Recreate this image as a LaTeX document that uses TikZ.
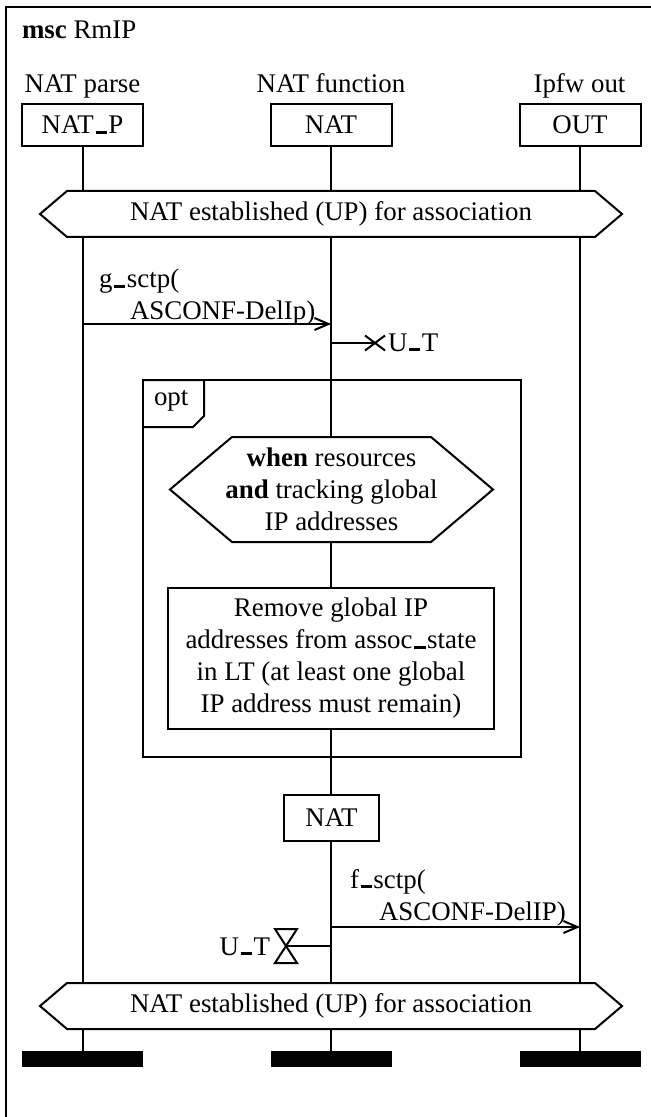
\documentclass[tikz,border=0pt]{standalone}
\usepackage{fontspec}
\setmainfont{Liberation Serif}
\usetikzlibrary{arrows.meta,calc}

% underscore drawn as a short rule sitting on the baseline
\newcommand{\usc}{\leavevmode\kern.06em\vbox{\hrule width.42em height 1.4pt}\kern.06em}
% hexagon outline round a named node; #2 = horizontal run of the slanted sides
\newcommand{\hexframe}[2]{%
  \draw[lw] (#1.west) -- ([xshift=#2]#1.north west) -- ([xshift=-#2]#1.north east)
    -- (#1.east) -- ([xshift=-#2]#1.south east) -- ([xshift=#2]#1.south west) -- cycle;}

\begin{document}
\begin{tikzpicture}[x=0.5pt,y=-0.5pt,
  font=\fontsize{13.45}{16}\selectfont,
  every node/.style={inner sep=0pt, outer sep=0pt},
  lw/.style={line width=1pt},
  instbox/.style={draw, lw, minimum width=60.5pt, minimum height=21pt},
  life/.style={lw},
  msg/.style={lw, -{Straight Barb[length=7pt,width=6pt]}},
  endbar/.style={fill=black, minimum width=60.5pt, minimum height=8pt},
  lbl/.style={anchor=base west},
  title/.style={anchor=base}]

\useasboundingbox (0,0) rectangle (651,1117);

% diagram frame
\draw[line width=1.3pt] (6,1117) -- (6,7) -- (651,7);
\node[lbl] (name) at (22,39) {\textbf{msc} RmIP};

% instance heads
\node[title] (tP) at (82.5,93) {NAT parse};
\node[title] (tN) at (331,93) {NAT function};
\node[title] (tO) at (579.5,93) {Ipfw out};
\node[instbox] (natp) at (82.5,125) {NAT\usc P};
\node[instbox] (nat)  at (331,125) {NAT};
\node[instbox] (out)  at (580,125) {OUT};

% global condition at the start
\node[minimum width=291pt, minimum height=23pt] (hexA) at (331,214)
  {NAT established (UP) for association};
\hexframe{hexA}{13.5pt}

% option frame
\node[minimum width=189pt, minimum height=188.5pt] (opt) at (332,568.5) {};
\draw[lw] (opt.north west) rectangle (opt.south east);
\draw[lw] ($(opt.north west)+(0,47)$) -- ++(50,0) -- ++(11,-11) |- (opt.north west);
\node[lbl] (optl) at (154,405) {opt};

% guard condition inside the option
\node[minimum width=161.5pt, minimum height=52.5pt, align=center] (cond) at (331.5,489.5)
  {\textbf{when} resources\\\textbf{and} tracking global\\IP addresses};
\hexframe{cond}{31pt}

% local action
\node[draw, lw, minimum width=163pt, minimum height=70.5pt, align=center] (act) at (331,658.5)
  {Remove global IP\\addresses from assoc\usc state\\in LT (at least one global\\IP address must remain)};

% state box on NAT
\node[draw, lw, minimum width=47.5pt, minimum height=23pt] (nat2) at (331.5,818) {NAT};

% global condition at the end
\node[minimum width=291pt, minimum height=23pt] (hexB) at (331,1006)
  {NAT established (UP) for association};
\hexframe{hexB}{13.5pt}

% instance ends
\node[endbar] (endP) at (82.5,1059) {};
\node[endbar] (endN) at (331,1059) {};
\node[endbar] (endO) at (580,1059) {};

% lifelines
\draw[life] (natp.south) -- (natp.south |- hexA.north);
\draw[life] (natp.south |- hexA.south) -- (natp.south |- hexB.north);
\draw[life] (natp.south |- hexB.south) -- (endP.north);
\draw[life] (out.south) -- (out.south |- hexA.north);
\draw[life] (out.south |- hexA.south) -- (out.south |- hexB.north);
\draw[life] (out.south |- hexB.south) -- (endO.north);
\draw[life] (nat.south) -- (nat.south |- hexA.north);
\draw[life] (nat.south |- hexA.south) -- (nat.south |- cond.north);
\draw[life] (nat.south |- cond.south) -- (nat.south |- act.north);
\draw[life] (nat.south |- act.south) -- (nat.south |- nat2.north);
\draw[life] (nat.south |- nat2.south) -- (nat.south |- hexB.north);
\draw[life] (nat.south |- hexB.south) -- (endN.north);

% message g_sctp
\coordinate (m1s) at (82.5,324);
\coordinate (m1e) at (331,324);
\draw[msg] (m1s) -- (m1e);
\node[lbl] (m1a) at (99,288) {g\usc sctp(};
\node[lbl] (m1b) at (130,320) {ASCONF-DelIp)};

% timer set
\coordinate (ts) at (331,343);
\coordinate (tx) at (375,343);
\draw[lw] (ts) -- (tx);
\draw[lw] (tx) +(-10,-7.5) -- +(10,7.5) +(-10,7.5) -- +(10,-7.5);
\node[anchor=base west] (tsl) at (388,351) {U\usc T};

% message f_sctp
\coordinate (m2s) at (331,927);
\coordinate (m2e) at (580,927);
\draw[msg] (m2s) -- (m2e);
\node[lbl] (m2a) at (350,888) {f\usc sctp(};
\node[lbl] (m2b) at (379,920) {ASCONF-DelIP)};

% timeout
\coordinate (tos) at (331,946);
\coordinate (tox) at (286,946);
\draw[lw] (tos) -- (tox);
\draw[lw, line join=miter] (tox) +(-11,-17) -- +(11,-17) -- +(-11,17) -- +(11,17) -- cycle;
\node[anchor=base east] (tol) at (270,955) {U\usc T};

\end{tikzpicture}
\end{document}
